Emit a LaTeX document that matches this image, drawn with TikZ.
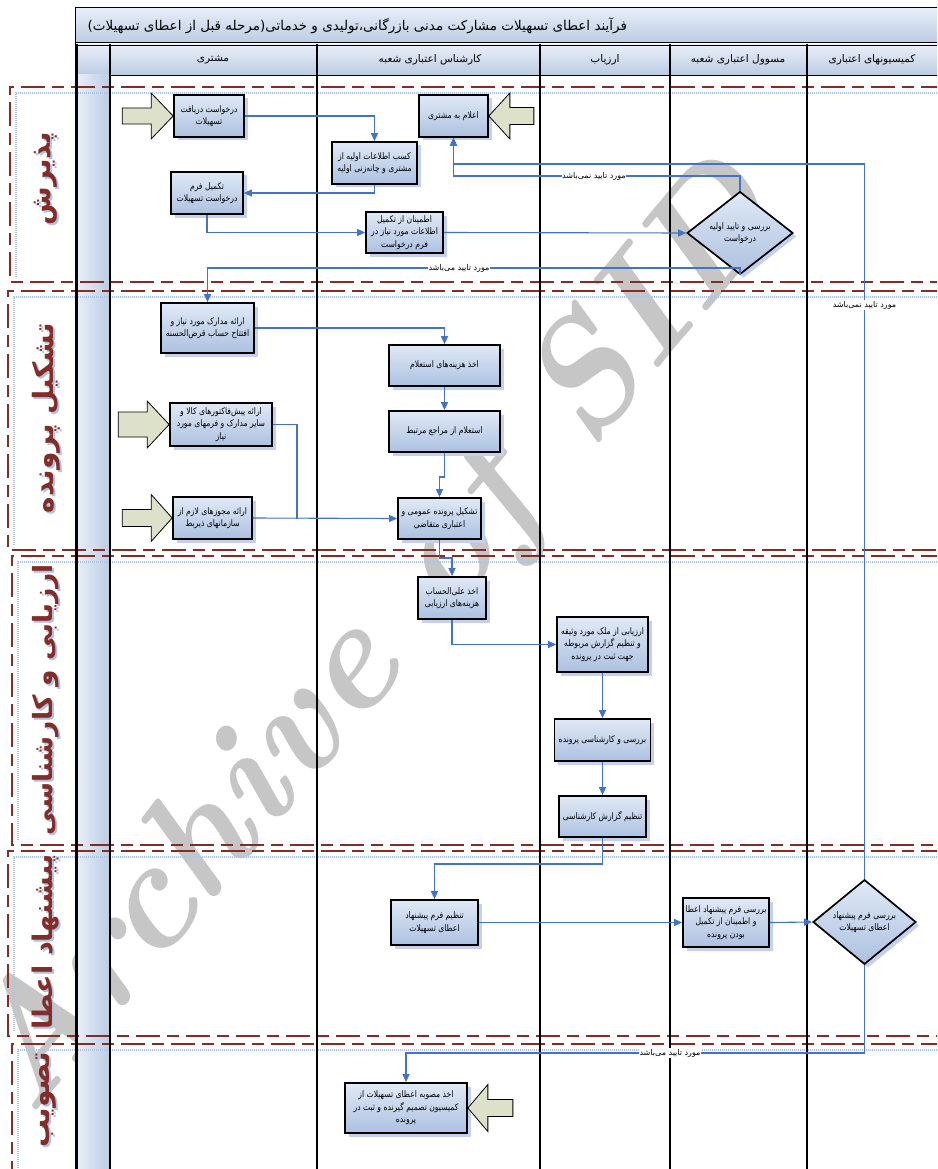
\documentclass[tikz,border=0pt]{standalone}
\usepackage{fontspec}
\usetikzlibrary{arrows.meta,shapes.geometric,shadows,calc}
\TeXXeTstate=1
\newfontfamily\pfont[Script=Arabic]{DejaVu Sans}
\newfontfamily\pfontn[Script=Arabic, FakeStretch=0.85]{DejaVu Sans}
\newcommand\RL[1]{\beginR #1\endR}
\definecolor{boxtop}{RGB}{224,233,246}
\definecolor{boxbot}{RGB}{172,193,225}
\definecolor{shadowc}{RGB}{196,208,236}
\definecolor{flowblue}{RGB}{70,114,196}
\definecolor{beige}{RGB}{221,225,201}
\definecolor{phasered}{RGB}{130,45,40}
\definecolor{headtop}{RGB}{232,238,247}
\definecolor{headbot}{RGB}{188,204,228}
\definecolor{wmgray}{RGB}{198,198,198}
\definecolor{dotblue}{RGB}{175,195,230}
\tikzset{
  proc/.style={draw=black, line width=1.7pt, top color=boxtop, bottom color=boxbot,
    drop shadow={shadow xshift=3.5pt, shadow yshift=-3.5pt, fill=shadowc, opacity=1},
    align=center, inner sep=1.5pt, font=\pfontn\fontsize{9}{12.5}\selectfont},
  dec/.style={proc, shape=diamond, inner sep=0pt},
  flow/.style={draw=flowblue, line width=1.1pt, -{Triangle[length=8pt,width=7pt]}},
  flowline/.style={draw=flowblue, line width=1.1pt},
  elabel/.style={fill=white, inner sep=0.5pt, font=\pfont\fontsize{8}{9}\selectfont},
  blockarrow/.style={draw=black, line width=0.8pt, fill=beige},
  phaseline/.style={draw=phasered, line width=2.6pt, dash pattern=on 24pt off 7pt on 12pt off 7pt},
  phasedots/.style={draw=dotblue, line width=1.2pt, dash pattern=on 1pt off 1pt},
  phaselabel/.style={rotate=90, text=phasered, font=\pfont\bfseries\fontsize{28}{28}\selectfont},
  phaseshadow/.style={rotate=90, text=dotblue, font=\pfont\bfseries\fontsize{28}{28}\selectfont},
  headcell/.style={draw=black, line width=0.8pt, top color=headtop, bottom color=headbot},
  headtext/.style={font=\pfont\fontsize{10.5}{12}\selectfont},
  lane/.style={draw=black, line width=2.2pt}
}
\begin{document}
\begin{tikzpicture}[x=1pt, y=-1pt]
\useasboundingbox (0,0) rectangle (937,1169);
\fill[white] (0,0) rectangle (937,1169);
\begin{scope}
\clip (0,0) rectangle (937,1169);
% watermark
\node[rotate=50, text=wmgray, font=\fontsize{155}{155}\selectfont\bfseries\itshape] (wm) at (378,642) {Archive of SID};
% title bar
\draw[line width=1pt, top color=headtop, bottom color=headbot] (75,8) rectangle (945,43);
\node[anchor=west, font=\pfont\fontsize{13.5}{15}\selectfont] (title) at (84,26) {\RL{فرآیند اعطای تسهیلات مشارکت مدنی بازرگانی،تولیدی و خدماتی(مرحله قبل از اعطای تسهیلات)}};
% header cells
\draw[headcell] (77,45) rectangle (110,75);
\draw[headcell] (110,45) rectangle (317,75);
\draw[headcell] (317,45) rectangle (540,75);
\draw[headcell] (540,45) rectangle (670,75);
\draw[headcell] (670,45) rectangle (807,75);
\draw[headcell] (807,45) rectangle (945,75);
\node[headtext] (h1) at (213,60) {\RL{مشتری}};
\node[headtext] (h2) at (430,60) {\RL{کارشناس اعتباری شعبه}};
\node[headtext] (h3) at (605,60) {\RL{ارزیاب}};
\node[headtext] (h4) at (738,60) {\RL{مسوول اعتباری شعبه}};
\node[headtext] (h5) at (872,60) {\RL{کمیسیونهای اعتباری}};
% left strip
\shade[left color=headtop, right color=headbot] (77,75) rectangle (110,1175);
% phases
\foreach \t/\b/\l in {87/282/10, 291/550/8, 556/845/12, 851/1036/8, 1044/1190/12}{
  \draw[phasedots] (945,\t+6) -- (\l+6,\t+6) -- (\l+6,\b-4);
  \draw[phaseline] (945,\t) -- (\l,\t) -- (\l,\b) -- (945,\b);
}
\node[phaseshadow] at (48,181) {\RL{پذیرش}};
\node[phaselabel] (p1) at (46,179) {\RL{پذیرش}};
\node[phaseshadow] at (48,420) {\RL{تشکیل پرونده}};
\node[phaselabel] (p2) at (46,418) {\RL{تشکیل پرونده}};
\node[phaseshadow, font=\pfont\bfseries\fontsize{26.5}{27}\selectfont] at (48,702) {\RL{ارزیابی و کارشناسی}};
\node[phaselabel, font=\pfont\bfseries\fontsize{26.5}{27}\selectfont] (p3) at (46,700) {\RL{ارزیابی و کارشناسی}};
\node[phaseshadow, font=\pfont\bfseries\fontsize{27}{27}\selectfont] at (48,944) {\RL{پیشنهاد اعطا}};
\node[phaselabel, font=\pfont\bfseries\fontsize{27}{27}\selectfont] (p4) at (46,942) {\RL{پیشنهاد اعطا}};
\node[phaseshadow] at (48,1102) {\RL{تصویب}};
\node[phaselabel] (p5) at (46,1100) {\RL{تصویب}};
% lanes
\foreach \x in {77,110,317,540,670,807}{\draw[lane] (\x,44) -- (\x,1175);}
\draw[line width=1pt] (75,8) -- (75,1175);
% boxes
\node[proc, minimum width=70pt, minimum height=42pt] (b1) at (209,116) {\RL{درخواست دریافت}\\\RL{تسهیلات}};
\node[proc, minimum width=85pt, minimum height=42pt] (b2) at (374.5,163) {\RL{کسب اطلاعات اولیه از}\\\RL{مشتری و چانه^^^^200cزنی اولیه}};
\node[proc, minimum width=69pt, minimum height=42pt] (b3) at (453.5,116) {\RL{اعلام به مشتری}};
\node[proc, minimum width=72pt, minimum height=42pt] (b4) at (207,193) {\RL{تکمیل فرم}\\\RL{درخواست تسهیلات}};
\node[proc, minimum width=77pt, minimum height=41pt] (b5) at (404.5,232.5) {\RL{اطمینان از تکمیل}\\\RL{اطلاعات مورد نیاز در}\\\RL{فرم درخواست}};
\node[dec, minimum width=106pt, minimum height=58pt] (d1) at (740,233) {\RL{بررسی و تایید اولیه}\\\RL{درخواست}};
\node[proc, minimum width=93pt, minimum height=50pt] (b7) at (207.5,328) {\RL{ارائه مدارک مورد نیاز و}\\\RL{افتتاح حساب قرض^^^^200cالحسنه}};
\node[proc, minimum width=111pt, minimum height=41pt] (b8) at (444.5,365.5) {\RL{اخذ هزینه^^^^200cهای استعلام}};
\node[proc, minimum width=111pt, minimum height=41pt] (b9) at (444.5,431.5) {\RL{استعلام از مراجع مرتبط}};
\node[proc, minimum width=102pt, minimum height=43pt] (b10) at (221,424.5) {\RL{ارائه پیش^^^^200cفاکتورهای کالا و}\\\RL{سایر مدارک و فرمهای مورد}\\\RL{نیاز}};
\node[proc, minimum width=79pt, minimum height=42pt] (b11) at (212.5,518) {\RL{ارائه مجوزهای لازم از}\\\RL{سازمانهای ذیربط}};
\node[proc, minimum width=83pt, minimum height=41pt] (b12) at (439.5,518.5) {\RL{تشکیل پرونده عمومی و}\\\RL{اعتباری متقاضی}};
\node[proc, minimum width=68pt, minimum height=42pt] (b13) at (452,598) {\RL{اخذ علی^^^^200cالحساب}\\\RL{هزینه^^^^200cهای ارزیابی}};
\node[proc, minimum width=91pt, minimum height=55pt] (b14) at (602.5,644.5) {\RL{ارزیابی از ملک مورد وثیقه}\\\RL{و تنظیم گزارش مربوطه}\\\RL{جهت ثبت در پرونده}};
\node[proc, minimum width=96pt, minimum height=42pt] (b15) at (602.5,740) {\RL{بررسی و کارشناسی پرونده}};
\node[proc, minimum width=87pt, minimum height=41pt] (b16) at (602.5,816.5) {\RL{تنظیم گزارش کارشناسی}};
\node[proc, minimum width=87pt, minimum height=45pt] (b17) at (434.5,922.5) {\RL{تنظیم فرم پیشنهاد}\\\RL{اعطای تسهیلات}};
\node[proc, minimum width=86pt, minimum height=49pt] (b18) at (726,922.5) {\RL{بررسی فرم پیشنهاد اعطا}\\\RL{و اطمینان از تکمیل}\\\RL{بودن پرونده}};
\node[dec, minimum width=103pt, minimum height=76pt] (d2) at (864.5,922) {\RL{بررسی فرم پیشنهاد}\\\RL{اعطای تسهیلات}};
\node[proc, minimum width=122pt, minimum height=50pt] (b20) at (406,1108) {\RL{اخذ مصوبه اعطای تسهیلات از}\\\RL{کمیسیون تصمیم گیرنده و ثبت در}\\\RL{پرونده}};
% block arrows
\draw[blockarrow] (b1.west) -- ++(-22,-23) -- ++(0,15) -- ++(-29,0) -- ++(0,16) -- ++(29,0) -- ++(0,15) -- cycle;
\draw[blockarrow] (b3.east) -- ++(21,-23) -- ++(0,14.5) -- ++(24,0) -- ++(0,17) -- ++(-24,0) -- ++(0,14.5) -- cycle;
\draw[blockarrow] (b10.west) -- ++(-22,-23.5) -- ++(0,11) -- ++(-29,0) -- ++(0,25) -- ++(29,0) -- ++(0,11) -- cycle;
\draw[blockarrow] (b11.west) -- ++(-21,-23.5) -- ++(0,15) -- ++(-29,0) -- ++(0,17) -- ++(29,0) -- ++(0,15) -- cycle;
\draw[blockarrow] (b20.east) -- ++(20,-23.5) -- ++(0,15) -- ++(25,0) -- ++(0,17) -- ++(-25,0) -- ++(0,15) -- cycle;
% connectors
\draw[flow] (b1.east) -| (b2.north);
\draw[flow] (b2.south) |- (b4.east);
\draw[flow] (b4.south) |- (b5.west);
\draw[flow] (b5.east) -- (d1.west);
\draw[flow] (d1.north) -- (d1.north |- 0,176) -| (b3.south);
\node[elabel] (l1) at (594,176) {\RL{مورد تایید نمی^^^^200cباشد}};
\draw[flow] (d2.north) -- (d2.north |- 0,164) -| (b3.south);
\node[elabel] (l2) at (864.5,305) {\RL{مورد تایید نمی^^^^200cباشد}};
\draw[flow] (d1.south) -- (d1.south |- 0,268) -| (b7.north);
\node[elabel] (l3) at (459,268) {\RL{مورد تایید می^^^^200cباشد}};
\draw[flow] (b7.east) -| (b8.north);
\draw[flow] (b8.south) -- (b9.north);
\draw[flow] (b9.south) -- (444.5,477) -| (b12.north);
\draw[flowline] (b10.east) -- (297,424.5) -- (297,518.5);
\draw[flow] (b11.east) -- (b12.west);
\draw[flow] (b12.south) -- (439.5,558) -| (b13.north);
\draw[flow] (b13.south) |- (b14.west);
\draw[flow] (b14.south) -- (b15.north);
\draw[flow] (b15.south) -- (b16.north);
\draw[flow] (b16.south) -- (602.5,864) -| (b17.north);
\draw[flow] (b17.east) -- (b18.west);
\draw[flow] (b18.east) -- (d2.west);
\draw[flow] (d2.south) -- (864.5,1053) -| (b20.north);
\node[elabel] (l4) at (670,1053) {\RL{مورد تایید می^^^^200cباشد}};
\end{scope}
\end{tikzpicture}
\end{document}
